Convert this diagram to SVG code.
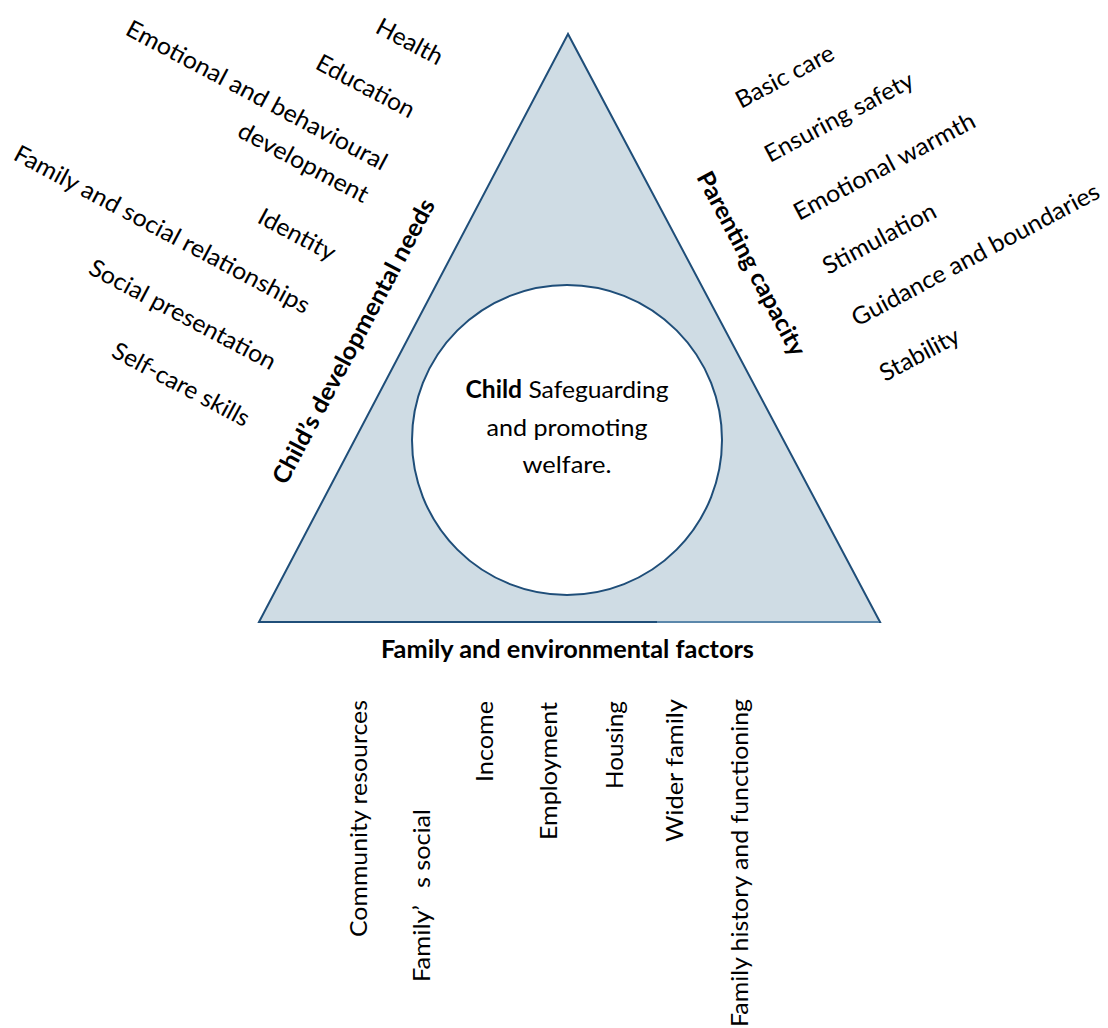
<svg xmlns="http://www.w3.org/2000/svg" width="1108" height="1028" viewBox="0 0 1108 1028">
<style>
text{font-family:Lato,"Liberation Sans",sans-serif;font-size:24px;fill:#000;}
.b{font-weight:700;}
.tri{fill:#cfdce4;stroke:#1f4e79;stroke-width:2;stroke-linejoin:miter;}
.hole{fill:#fff;stroke:#1f4e79;stroke-width:2;}
</style>
<rect width="1108" height="1028" fill="#fff"/>
<g id="triangle">
  <polygon class="tri" points="568,34 259,622 880,622"/>
  <line x1="657" y1="622" x2="879" y2="622" stroke="#5b87ab" stroke-width="2"/>
</g>
<g id="centre">
  <circle class="hole" cx="567" cy="440" r="155"/>
  <text x="567" y="398" text-anchor="middle" textLength="203" lengthAdjust="spacingAndGlyphs"><tspan class="b">Child</tspan> Safeguarding</text>
  <text x="567" y="436" text-anchor="middle" textLength="161" lengthAdjust="spacingAndGlyphs">and promoting</text>
  <text x="567" y="473" text-anchor="middle" textLength="89" lengthAdjust="spacingAndGlyphs">welfare.</text>
</g>
<g id="child-needs">
  <text class="b" transform="translate(286,486) rotate(-62)" textLength="319" lengthAdjust="spacingAndGlyphs">Child’s developmental needs</text>
  <text transform="translate(374,32) rotate(28)" textLength="72" lengthAdjust="spacingAndGlyphs">Health</text>
  <text transform="translate(314,68) rotate(28)" textLength="108" lengthAdjust="spacingAndGlyphs">Education</text>
  <text transform="translate(124,34) rotate(28)" textLength="292" lengthAdjust="spacingAndGlyphs">Emotional and behavioural</text>
  <text transform="translate(236,136) rotate(28)" textLength="144" lengthAdjust="spacingAndGlyphs">development</text>
  <text transform="translate(256,222) rotate(28)" textLength="84" lengthAdjust="spacingAndGlyphs">Identity</text>
  <text transform="translate(12,159) rotate(28)" textLength="331" lengthAdjust="spacingAndGlyphs">Family and social relationships</text>
  <text transform="translate(87,273) rotate(28)" textLength="208" lengthAdjust="spacingAndGlyphs">Social presentation</text>
  <text transform="translate(110,356) rotate(28)" textLength="152" lengthAdjust="spacingAndGlyphs">Self-care skills</text>
</g>
<g id="parenting">
  <text class="b" transform="translate(696,177) rotate(62)" textLength="205" lengthAdjust="spacingAndGlyphs">Parenting capacity</text>
  <text transform="translate(741,109) rotate(-28)" textLength="108" lengthAdjust="spacingAndGlyphs">Basic care</text>
  <text transform="translate(770,163) rotate(-28)" textLength="165" lengthAdjust="spacingAndGlyphs">Ensuring safety</text>
  <text transform="translate(799,221) rotate(-28)" textLength="202" lengthAdjust="spacingAndGlyphs">Emotional warmth</text>
  <text transform="translate(828,275) rotate(-28)" textLength="125" lengthAdjust="spacingAndGlyphs">Stimulation</text>
  <text transform="translate(857,327) rotate(-28)" textLength="277" lengthAdjust="spacingAndGlyphs">Guidance and boundaries</text>
  <text transform="translate(885,382) rotate(-28)" textLength="87" lengthAdjust="spacingAndGlyphs">Stability</text>
</g>
<g id="family-factors">
  <text class="b" x="381" y="658" textLength="373" lengthAdjust="spacingAndGlyphs">Family and environmental factors</text>
  <text transform="translate(367,937) rotate(-90)" textLength="237" lengthAdjust="spacingAndGlyphs">Community resources</text>
  <text transform="translate(430,982) rotate(-90)" textLength="77" lengthAdjust="spacingAndGlyphs">Family’</text>
  <text transform="translate(430,888) rotate(-90)" textLength="79" lengthAdjust="spacingAndGlyphs">s social</text>
  <text transform="translate(493,782) rotate(-90)" textLength="81" lengthAdjust="spacingAndGlyphs">Income</text>
  <text transform="translate(557,840) rotate(-90)" textLength="138" lengthAdjust="spacingAndGlyphs">Employment</text>
  <text transform="translate(623,789) rotate(-90)" textLength="88" lengthAdjust="spacingAndGlyphs">Housing</text>
  <text transform="translate(683,842) rotate(-90)" textLength="143" lengthAdjust="spacingAndGlyphs">Wider family</text>
  <text transform="translate(748,1027) rotate(-90)" textLength="328" lengthAdjust="spacingAndGlyphs">Family history and functioning</text>
</g>
<g id="connectors"></g>
</svg>
